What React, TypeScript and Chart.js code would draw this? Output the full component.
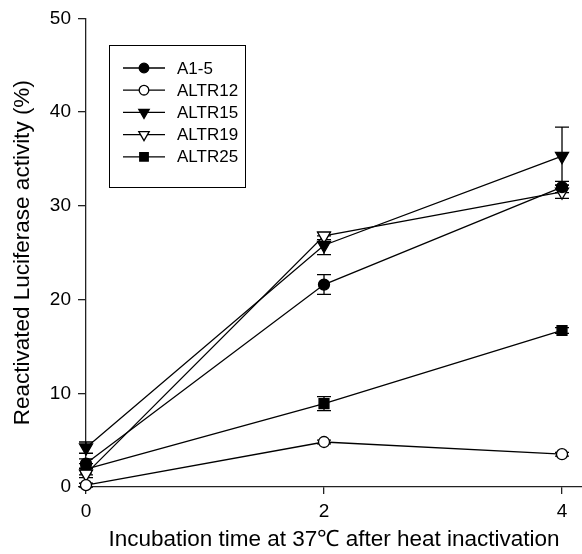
import React, { useEffect, useRef } from "react";
import { Chart, registerables } from "chart.js";

Chart.register(...registerables);

const times = [0, 2, 4];
const xTicks = [0, 2, 4];
const yTicks = [0, 10, 20, 30, 40, 50];

const a15 = [2.5, 21.6, 32.0];
const a15Err = [0.5, 1.05, 0.6];
const altr12 = [0.2, 4.8, 3.5];
const altr12Err = [0.2, 0.2, 0.2];
const altr15 = [4.2, 25.8, 35.3];
const altr15Err = [0.6, 1.0, 3.1];
const altr19 = [1.4, 26.8, 31.5];
const altr19Err = [0.4, 0.4, 0.7];
const altr25 = [1.9, 8.9, 16.7];
const altr25Err = [0.6, 0.75, 0.3];

const labels = ["A1-5", "ALTR12", "ALTR15", "ALTR19", "ALTR25"];
const xTitle = "Incubation time at 37℃ after heat inactivation";
const yTitle = "Reactivated Luciferase activity (%)";

const FONT = "'Liberation Sans', Arial, sans-serif";

function drawMarker(ctx: CanvasRenderingContext2D, style: string, rot: number, x: number, y: number, r: number) {
  if (style === "circle") {
    ctx.arc(x, y, r, 0, Math.PI * 2);
  } else if (style === "rect") {
    const s = Math.SQRT1_2 * r;
    ctx.rect(x - s, y - s, 2 * s, 2 * s);
  } else if (style === "triangle") {
    const rad = (rot * Math.PI) / 180;
    for (let k = 0; k < 3; k++) {
      const a = rad + (k * 2 * Math.PI) / 3;
      const px = x + Math.sin(a) * r;
      const py = y - Math.cos(a) * r;
      if (k === 0) ctx.moveTo(px, py);
      else ctx.lineTo(px, py);
    }
    ctx.closePath();
  }
}

const errorBarPlugin = {
  id: "errorBars",
  beforeDatasetsDraw(chart: any) {
    const ctx = chart.ctx;
    const xs = chart.scales.x;
    const ys = chart.scales.y;
    ctx.save();
    ctx.strokeStyle = "#000";
    ctx.lineWidth = 1.3;
    chart.data.datasets.forEach((ds: any) => {
      const errs: number[] = ds.errors || [];
      ds.data.forEach((p: any, i: number) => {
        const e = errs[i];
        if (!e) return;
        const px = xs.getPixelForValue(p.x);
        const yTop = ys.getPixelForValue(p.y + e);
        const yBot = ys.getPixelForValue(p.y - e);
        ctx.beginPath();
        ctx.moveTo(px, yTop);
        ctx.lineTo(px, yBot);
        ctx.moveTo(px - 7, yTop);
        ctx.lineTo(px + 7, yTop);
        ctx.moveTo(px - 7, yBot);
        ctx.lineTo(px + 7, yBot);
        ctx.stroke();
      });
    });
    ctx.restore();
  },
};

const legendPlugin = {
  id: "boxLegend",
  afterDraw(chart: any) {
    const ctx = chart.ctx;
    const bx = 109.5, by = 45.5, bw = 136, bh = 142;
    ctx.save();
    ctx.strokeStyle = "#000";
    ctx.lineWidth = 1;
    ctx.strokeRect(bx, by, bw, bh);
    ctx.font = `17px ${FONT}`;
    ctx.textBaseline = "middle";
    chart.data.datasets.forEach((ds: any, i: number) => {
      const y = 68 + i * 22.2;
      ctx.beginPath();
      ctx.lineWidth = 1.3;
      ctx.strokeStyle = "#000";
      ctx.moveTo(123, y);
      ctx.lineTo(165, y);
      ctx.stroke();
      ctx.fillStyle = ds.pointBackgroundColor;
      ctx.beginPath();
      drawMarker(ctx, ds.pointStyle, ds.pointRotation || 0, 144, y, ds.pointStyle === "circle" ? 4.8 : 6);
      ctx.fill();
      ctx.stroke();
      ctx.fillStyle = "#000";
      ctx.fillText(ds.label, 177, y + 1);
    });
    ctx.restore();
  },
};

function series(vals: number[]) {
  return vals.map((v, i) => ({ x: times[i], y: v }));
}

export default function App() {
  const ref = useRef<HTMLCanvasElement>(null);
  useEffect(() => {
    document.body.style.margin = "0";
    const mk = (label: string, vals: number[], errs: number[], style: string, fill: string, radius: number, rot = 0) => ({
      label,
      data: series(vals),
      errors: errs,
      borderColor: "#000",
      borderWidth: 1.3,
      pointStyle: style,
      pointRotation: rot,
      pointRadius: radius,
      pointBackgroundColor: fill,
      pointBorderColor: "#000",
      pointBorderWidth: 1.3,
      showLine: true,
      tension: 0,
      clip: false as any,
    });
    const chart = new Chart(ref.current!, {
      type: "scatter",
      data: {
        datasets: [
          mk(labels[0], a15, a15Err, "circle", "#000", 5.5),
          mk(labels[1], altr12, altr12Err, "circle", "#fff", 5.5),
          mk(labels[2], altr15, altr15Err, "triangle", "#000", 7.5, 180),
          mk(labels[3], altr19, altr19Err, "triangle", "#fff", 7.5, 180),
          mk(labels[4], altr25, altr25Err, "rect", "#000", 7),
        ] as any,
      },
      options: {
        animation: false,
        responsive: true,
        maintainAspectRatio: false,
        layout: { autoPadding: false, padding: { top: 17, right: 0, left: 0, bottom: 0 } },
        plugins: { legend: { display: false }, tooltip: { enabled: false } },
        scales: {
          x: {
            type: "linear",
            min: 0,
            max: 4.168,
            afterBuildTicks: (s: any) => {
              s.ticks = xTicks.map((v) => ({ value: v }));
            },
            afterFit: (s: any) => {
              s.height = 67;
            },
            grid: { display: true, drawOnChartArea: false, drawTicks: true, tickLength: 7, color: "#222", lineWidth: 1.3 },
            border: { display: true, color: "#222", width: 1.3 },
            ticks: { color: "#000", font: { family: FONT, size: 19 }, padding: 6, maxRotation: 0 },
            title: { display: true, text: xTitle, color: "#000", font: { family: FONT, size: 22.5 }, padding: { top: 0, bottom: 1 } },
          },
          y: {
            type: "linear",
            min: 0,
            max: 50,
            afterBuildTicks: (s: any) => {
              s.ticks = yTicks.map((v) => ({ value: v }));
            },
            afterFit: (s: any) => {
              s.width = 86;
            },
            grid: { display: true, drawOnChartArea: false, drawTicks: true, tickLength: 8, color: "#222", lineWidth: 1.3 },
            border: { display: true, color: "#222", width: 1.3 },
            ticks: { color: "#000", font: { family: FONT, size: 19 }, padding: 7 },
            title: { display: true, text: yTitle, color: "#000", font: { family: FONT, size: 22.5 }, padding: { top: 9, bottom: 0 } },
          },
        },
      },
      plugins: [errorBarPlugin, legendPlugin],
    });
    return () => chart.destroy();
  }, []);
  return (
    <div style={{ width: 582, height: 554, position: "relative" }}>
      <canvas ref={ref} />
    </div>
  );
}
